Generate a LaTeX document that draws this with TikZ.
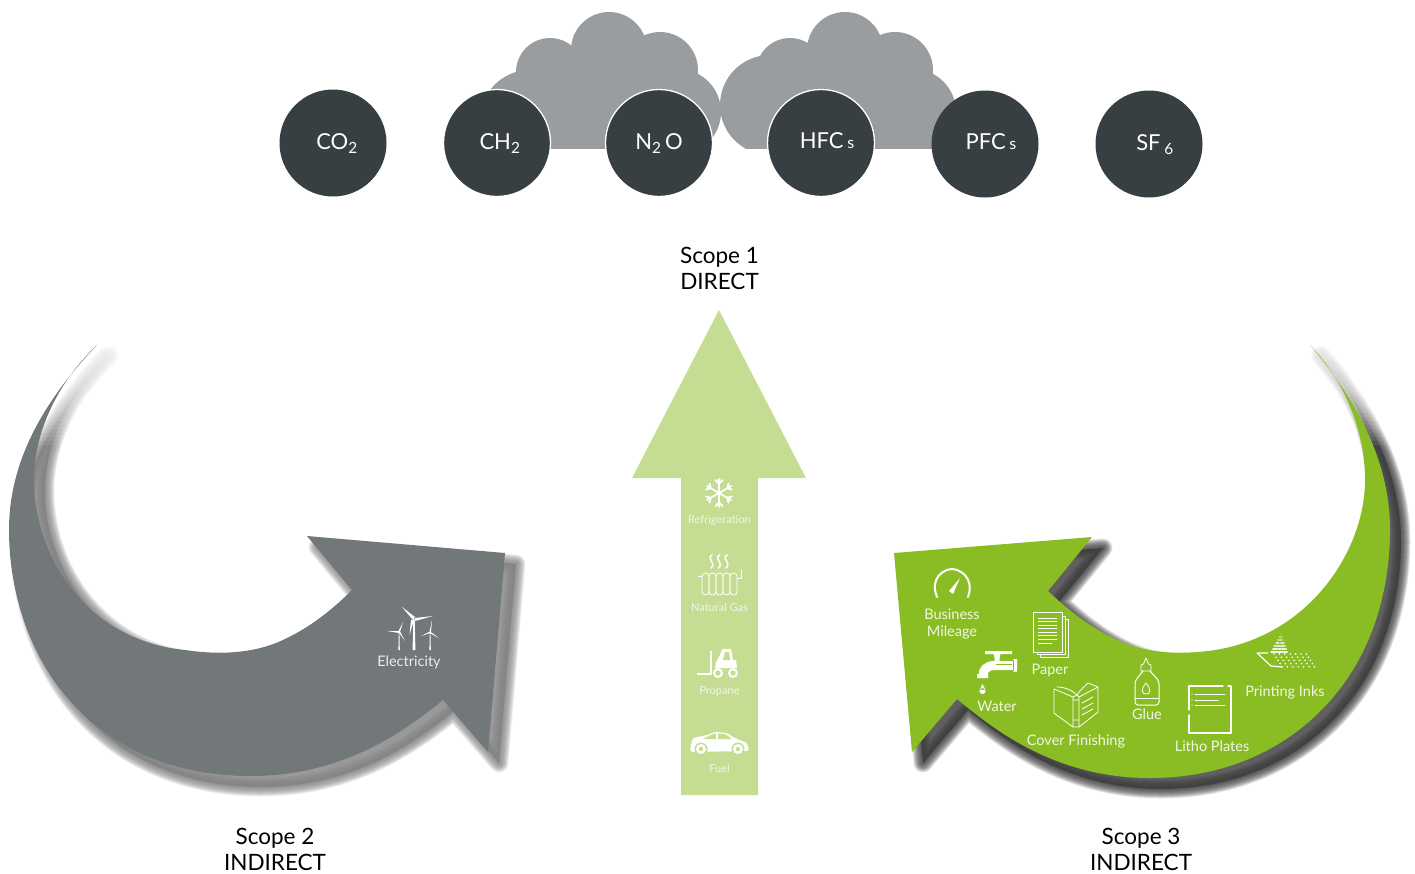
\documentclass[tikz,border=0pt]{standalone}
\usepackage{fontspec}
\setmainfont{Lato}
\definecolor{gasdark}{HTML}{373F42}
\definecolor{cloudgrey}{HTML}{9A9DA0}
\definecolor{palegreen}{HTML}{C5DD92}
\definecolor{leafgreen}{HTML}{8ABD24}
\definecolor{arrowgrey}{HTML}{72777A}
\definecolor{softwhite}{HTML}{F1F6E4}
\newcommand\greenarrow{(1310,345) .. controls (1348,385) and (1365,435) .. (1365,480) .. controls (1365,550) and (1310,635) .. (1215,650) .. controls (1175,656) and (1140,652) .. (1113,638) .. controls (1090,627) and (1068,610) .. (1048,591) -- (1092,537) -- (894,553) -- (912,752) -- (957,699) .. controls (1000,735) and (1060,778) .. (1150,778) .. controls (1230,778) and (1300,745) .. (1345,682) .. controls (1375,640) and (1390,585) .. (1390,530) .. controls (1390,470) and (1365,410) .. (1310,345) -- cycle}
\newcommand\greyarrow{(97,345) .. controls (55,385) and (34,435) .. (34,480) .. controls (34,555) and (85,640) .. (185,650) .. controls (225,656) and (260,652) .. (287,638) .. controls (310,627) and (332,610) .. (352,590) -- (307,536) -- (505,553) -- (488,752) -- (443,700) .. controls (400,735) and (340,776) .. (250,776) .. controls (170,776) and (100,745) .. (55,682) .. controls (25,640) and (9,585) .. (9,530) .. controls (9,470) and (35,410) .. (97,345) -- cycle}
\newcommand\softshadow[2]{%
  \begin{scope}[shift={(11,11)}]
    \fill[#2,opacity=.8] #1;
    \foreach \w in {1,...,19}{\draw[#2,opacity=.085,line width=\w pt,line join=round] #1;}
  \end{scope}}
\tikzset{
  x=1pt,y=-1pt,
  gas/.style={circle,fill=gasdark,minimum size=107pt,inner sep=0pt},
  gasrim/.style={gas,draw=white,line width=1.3pt},
  gastext/.style={text=white,font=\fontsize{22}{26}\selectfont,inner sep=0pt},
  scopetext/.style={text=black,align=center,font=\fontsize{22.5}{26}\selectfont,inner sep=0pt},
  smalllabel/.style={text=softwhite,font=\fontsize{11}{13}\selectfont,inner sep=0pt},
  biglabel/.style={text=softwhite,align=center,font=\fontsize{14.5}{17.5}\selectfont,inner sep=0pt},
  ic/.style={draw=white,line width=1pt,line cap=round,line join=round},
  icfine/.style={draw=white,line width=.8pt,line cap=round,line join=round}
}
\begin{document}
\begin{tikzpicture}
\useasboundingbox (0,0) rectangle (1415,873);
% clouds
\begin{scope}
  \clip (400,0) rectangle (1000,148.5);
  \fill[cloudgrey] (609,50) circle[radius=38pt] (550,72) circle[radius=34pt] (660,70) circle[radius=38pt]
    (530,120) circle[radius=50pt] (678,112) circle[radius=43pt] (525,75) rectangle (690,149);
  \fill[cloudgrey] (845,50) circle[radius=38pt] (790,72) circle[radius=34pt] (895,70) circle[radius=38pt]
    (770,105) circle[radius=50pt] (913,112) circle[radius=43pt] (770,60) rectangle (925,149);
\end{scope}
% gases
\node[gas] (co2) at (333,143) {};
\node[gasrim] (ch2) at (497,143) {};
\node[gasrim] (n2o) at (659,143) {};
\node[gasrim] (hfc) at (821,143) {};
\node[gas] (pfc) at (985,144) {};
\node[gas] (sf6) at (1149,144) {};
\node[gastext] (co2t) at (337,144) {CO\textsubscript{2}};
\node[gastext] (ch2t) at (500,144) {CH\textsubscript{2}};
\node[gastext] (n2ot) at (659,144) {N\textsubscript{2}\,O};
\node[gastext] (hfct) at (827,141) {HFC\,{\fontsize{16}{16}\selectfont s}};
\node[gastext] (pfct) at (991,142) {PFC\,{\fontsize{16}{16}\selectfont s}};
\node[gastext] (sf6t) at (1155,145) {SF\,\textsubscript{6}};
% scope captions
\node[scopetext] (s1) at (719.5,268) {Scope 1\\DIRECT};
\node[scopetext] (s2) at (275,849.5) {Scope 2\\INDIRECT};
\node[scopetext] (s3) at (1141,849.5) {Scope 3\\INDIRECT};
% central arrow
\fill[palegreen] (719,310) -- (806,478) -- (758,478) -- (758,795) -- (681,795) -- (681,478) -- (632,478) -- cycle;
\node[smalllabel] (refr) at (719.5,520.5) {Refrigeration};
\node[smalllabel] (ngas) at (719.5,607.5) {Natural Gas};
\node[smalllabel] (prop) at (719.5,691.5) {Propane};
\node[smalllabel] (fuel) at (719.5,768) {Fuel};
% snowflake
\foreach \a in {0,60,120}{
  \draw[white,line width=1.8pt,line cap=round,shift={(719,493)},rotate=\a] (0,-14)--(0,14)
    (-3.5,-13)--(0,-9.5)--(3.5,-13) (-3.5,13)--(0,9.5)--(3.5,13);}
% radiator
\foreach \i in {0,...,4}{\draw[icfine,rounded corners=3.4pt] (702+7*\i,573) rectangle (709+7*\i,595);}
\draw[ic] (698,576)--(702,576) (737,578)--(741,578)--(741,570);
\foreach \x in {712,719.5,727}{\draw[ic,line width=1.5pt] (\x,555) .. controls (\x-6,559) and (\x+5,563) .. (\x-1,568);}
% forklift
\draw[white,line width=1.5pt] (697,674)--(711,674)--(711,651);
\fill[white] (722,649)--(731,649)--(733,660)--(736,660)--(737,668)--(715,668)--(716,662)--(720,655)--cycle;
\fill[palegreen] (725,652)--(729,652)--(730,660)--(723,660)--cycle;
\fill[white] (718,673) circle[radius=5pt] (733,673) circle[radius=5pt];
\fill[palegreen] (718,673) circle[radius=2.7pt] (733,673) circle[radius=2.7pt];
% car
\fill[white,rounded corners=1.5pt] (690,748)--(693,738)--(707,735)--(715,732)--(727,733)--(735,738)--(747,743)--(749,751)--(691,752)--cycle;
\fill[palegreen] (703,739)--(714,733.5)--(716,733.5)--(716,739)--cycle (718,733.5)--(725,734)--(732,739)--(718,739)--cycle;
\fill[palegreen] (701,749) circle[radius=6.5pt] (738,749) circle[radius=6.5pt];
\fill[white] (701,749) circle[radius=5pt] (738,749) circle[radius=5pt];
\fill[palegreen] (701,749) circle[radius=2.2pt] (738,749) circle[radius=2.2pt];
% grey arrow
\softshadow{\greyarrow}{black!50}
\foreach \y in {345,349,...,445}{\fill[white,opacity=.08] (0,330) rectangle (150,\y);}
\fill[arrowgrey] \greyarrow;
\node[text=white!92!black,font=\fontsize{14.5}{17}\selectfont,inner sep=0pt] (elec) at (409,662.5) {Electricity};
% turbines
\fill[white] (412.6,650)--(415.4,650)--(414.7,619)--(413.3,619)--cycle (402,607)--(415,617)--(413,620)--cycle
  (433,616)--(415,618)--(415,621)--cycle (414,620)--(411,620)--(409.5,635)--cycle;
\fill[white] (398.4,650)--(399.8,650)--(399.4,632)--(398.8,632)--cycle (387,631)--(399,631)--(399,633)--cycle
  (403,622)--(398.5,631)--(400,632)--cycle (405,641)--(398.5,632)--(400,631.5)--cycle;
\fill[white] (429.4,650)--(430.8,650)--(430.4,632)--(429.8,632)--cycle (432,620)--(429.5,632)--(431,632)--cycle
  (421,636)--(430,631.5)--(430.5,633)--cycle (439,638)--(430,631.5)--(429.5,633)--cycle;
% green arrow
\softshadow{\greenarrow}{black!78}
\foreach \y in {345,349,...,445}{\fill[white,opacity=.08] (1270,330) rectangle (1415,\y);}
\fill[leafgreen] \greenarrow;
\node[biglabel] (busi) at (952,624) {Business\\Mileage};
\node[biglabel] (watr) at (997,706.5) {Water};
\node[biglabel] (papr) at (1050,671) {Paper};
\node[biglabel] (covr) at (1076,741) {Cover Finishing};
\node[biglabel] (glue) at (1147,714.5) {Glue};
\node[biglabel] (lith) at (1212,746) {Litho Plates};
\node[biglabel] (inks) at (1285,692) {Printing Inks};
% gauge
\draw[white,line width=2pt,line cap=round] (937,597) .. controls (929,577) and (945,569) .. (952,569) .. controls (959,569) and (975,577) .. (968,597);
\fill[white] (949,591)--(960,578)--(953,594)--cycle;
% paper
\draw[icfine] (1033,612) rectangle (1062,652);
\draw[icfine] (1062,616)--(1065,616)--(1065,654)--(1037,654)--(1037,652) (1065,619)--(1068,619)--(1068,657)--(1040,657)--(1040,654);
\foreach \y in {618,621.5,...,640}{\draw[white,line width=.8pt] (1038,\y)--(1057,\y);}
\draw[white,line width=.8pt] (1038,643)--(1052,643);
% faucet
\fill[white] (985,651) rectangle (1012,654) (994.5,654) rectangle (999.5,662);
\fill[white] (997,655) circle[radius=3.4pt];
\draw[white,line width=9pt] (1014,665.5)--(995,665.5) .. controls (986,665.5) and (983,670) .. (983,676);
\fill[white] (1013,659) rectangle (1017,671.5) (977,674) rectangle (988,678);
\draw[leafgreen,line width=.7pt] (996,664)--(1012,664) (1013,660)--(1013,671);
\fill[white] (982.5,684)--(985.5,690)--(979.5,690)--cycle (982.5,691) circle[radius=3pt];
% book
\draw[icfine] (1057,687) .. controls (1065,687) and (1072,690) .. (1077,695) .. controls (1080,690) and (1086,685) .. (1088,683) -- (1098,687) -- (1098,712) -- (1079,727) -- (1073,727) -- (1054,713) -- (1054,689) -- (1073,697) -- (1073,727);
\draw[icfine] (1079,727)--(1079,697)--(1098,687) (1073,697)--(1077,695)--(1079,697) (1073,720)--(1079,720) (1073,700)--(1079,700);
\draw[icfine] (1082,703)--(1093,697) (1082,709)--(1093,703) (1082,715)--(1093,709);
% glue
\draw[icfine] (1146,658)--(1143.5,664)--(1141,665)--(1141,671)--(1151,671)--(1151,665)--(1148.5,664)--cycle;
\draw[ic,rounded corners=3pt] (1143,671)--(1135,681)--(1135,705)--(1159,705)--(1159,681)--(1150,671);
\draw[icfine] (1135,698)--(1159,698);
\draw[icfine] (1146,683) .. controls (1152,690) and (1150,694) .. (1146,694) .. controls (1142,694) and (1140,690) .. (1146,683);
% litho plate
\draw[ic,line width=1.2pt] (1189,710)--(1189,686)--(1223,686) (1228,686)--(1231,686)--(1231,733)--(1189,733)--(1189,715);
\draw[icfine] (1195,694)--(1225,694) (1195,700)--(1218,700) (1195,705)--(1225,705);
\fill[white] (1192,694) circle[radius=.7pt] (1192,700) circle[radius=.7pt] (1192,705) circle[radius=.7pt];
% printing inks
\draw[ic,line width=1.2pt] (1268,653)--(1257,653)--(1271,666)--(1282,667);
\foreach \r in {0,...,6}{\foreach \c in {-\r,...,\r}{
  \fill[white] ({1281+1.3*\c-.3*\r},{634+3*\r}) circle[radius={.5+.1*\r}];}}
\foreach \r in {0,...,4}{\foreach \c in {0,...,6}{
  \fill[white] ({1274+\r*2+\c*5.4},{654+\r*3.2}) circle[radius=.9];}}
\end{tikzpicture}
\end{document}
